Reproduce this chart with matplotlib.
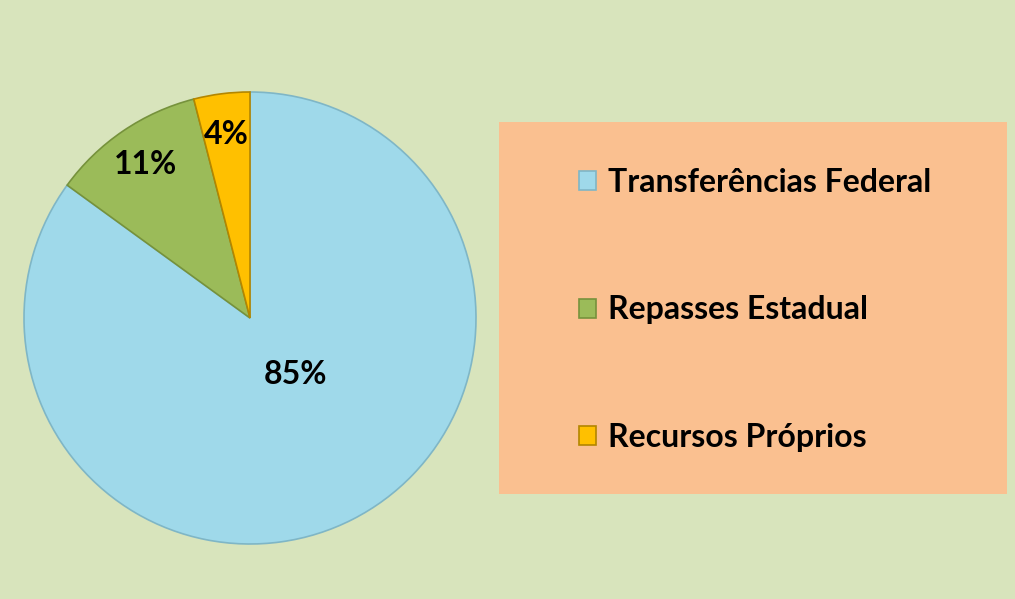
import matplotlib.pyplot as plt
from matplotlib.patches import Rectangle

# dados do grafico
categorias = ["Transferências Federal", "Repasses Estadual", "Recursos Próprios"]
valores = [85, 11, 4]
cores = ["#9fd9ea", "#9bbb59", "#ffc000"]
bordas = ["#7fb6c6", "#76923c", "#b38600"]

fundo = "#d8e4bc"
caixa = "#fac090"

plt.rcParams['font.family'] = ['Lato', 'DejaVu Sans']

fig = plt.figure(figsize=(10.15, 5.99), dpi=100, facecolor=fundo)
W, H = 1015, 599

# pizza: centro (250, 318) px, raio 226 px
ax = fig.add_axes([24 / W, 55 / H, 452 / W, 452 / H])
ax.set_facecolor(fundo)
wedges, texts, autotexts = ax.pie(valores, colors=cores, startangle=90, counterclock=False,
                                  autopct='%d%%', pctdistance=0.82,
                                  wedgeprops=dict(linewidth=1.2),
                                  textprops=dict(fontsize=23, fontweight='bold', color='black'))
for w, b in zip(wedges, bordas):
    w.set_edgecolor(b)
autotexts[0].set_position((0.2, -0.25))
ax.set_xlim(-1, 1)
ax.set_ylim(-1, 1)
ax.set_aspect('equal')
ax.axis('off')

# caixa da legenda
fig.patches.append(Rectangle((499 / W, 1 - 494 / H), 508 / W, 372 / H,
                             transform=fig.transFigure, facecolor=caixa, edgecolor='none', zorder=0))

leg = fig.legend(wedges, categorias, loc='center left', bbox_to_anchor=(550 / W, 1 - 310 / H),
                 frameon=False, prop=dict(family='Lato', weight='bold', size=23),
                 labelspacing=3.08, handlelength=0.55, handleheight=0.55, handletextpad=0.38)

fig.savefig("out.png", dpi=100, facecolor=fundo)
